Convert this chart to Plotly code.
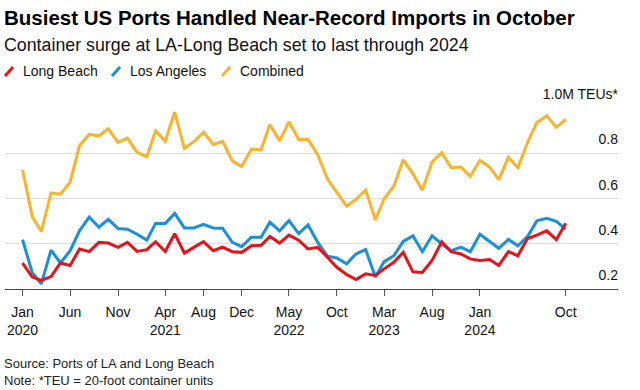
import pandas as pd
import plotly.graph_objects as go

# ---- data (million TEUs, monthly Jan 2020 – Oct 2024) ----
months = pd.date_range("2020-01-01", periods=58, freq="MS")

long_beach = [0.314, 0.253, 0.238, 0.255, 0.315, 0.304, 0.377, 0.365, 0.406, 0.403,
              0.384, 0.406, 0.366, 0.374, 0.409, 0.366, 0.444, 0.359, 0.384, 0.409,
              0.369, 0.385, 0.365, 0.362, 0.391, 0.393, 0.432, 0.403, 0.438, 0.416,
              0.377, 0.384, 0.340, 0.296, 0.264, 0.242, 0.267, 0.260, 0.289, 0.318,
              0.362, 0.276, 0.273, 0.326, 0.409, 0.365, 0.355, 0.333, 0.326, 0.330,
              0.304, 0.365, 0.347, 0.423, 0.438, 0.457, 0.418, 0.491]

los_angeles = [0.418, 0.272, 0.223, 0.372, 0.315, 0.369, 0.457, 0.518, 0.473, 0.508,
               0.467, 0.464, 0.442, 0.416, 0.490, 0.490, 0.534, 0.470, 0.470, 0.486,
               0.470, 0.469, 0.406, 0.387, 0.429, 0.429, 0.496, 0.457, 0.502, 0.445,
               0.483, 0.406, 0.345, 0.337, 0.311, 0.355, 0.374, 0.253, 0.321, 0.347,
               0.410, 0.435, 0.365, 0.435, 0.399, 0.369, 0.385, 0.365, 0.442, 0.409,
               0.380, 0.419, 0.391, 0.432, 0.501, 0.512, 0.499, 0.464]

combined = [0.727, 0.520, 0.454, 0.625, 0.619, 0.672, 0.834, 0.883, 0.877, 0.909,
            0.848, 0.867, 0.804, 0.785, 0.899, 0.854, 0.982, 0.822, 0.851, 0.893,
            0.839, 0.853, 0.766, 0.742, 0.818, 0.815, 0.927, 0.855, 0.939, 0.861,
            0.861, 0.793, 0.686, 0.628, 0.566, 0.596, 0.638, 0.505, 0.599, 0.654,
            0.771, 0.709, 0.637, 0.761, 0.803, 0.736, 0.739, 0.698, 0.768, 0.739,
            0.683, 0.782, 0.736, 0.847, 0.936, 0.966, 0.914, 0.950]

x_tick_dates = ["2020-01-01", "2020-06-01", "2020-11-01", "2021-04-01", "2021-08-01",
                "2021-12-01", "2022-05-01", "2022-10-01", "2023-03-01", "2023-08-01",
                "2024-01-01", "2024-10-01"]
x_tick_text = ["Jan<br>2020", "Jun", "Nov", "Apr<br>2021", "Aug", "Dec",
               "May<br>2022", "Oct", "Mar<br>2023", "Aug", "Jan<br>2024", "Oct"]

y_tick_vals = [0.2, 0.4, 0.6, 0.8, 1.0]
y_tick_text = ["0.2", "0.4", "0.6", "0.8", "1.0M TEUs*"]

series_names = ["Long Beach", "Los Angeles", "Combined"]
series_colors = ["#e8121a", "#1a8fdc", "#fbb32e"]

# ---- layout geometry (pixels) ----
W, H = 640, 390
ML, MR, MT, MB = 5, 22, 108, 101
PW = W - ML - MR
PH = H - MT - MB
FONT = "Liberation Sans, Arial, Helvetica, sans-serif"


def px_x(px):
    return (px - ML) / PW


def px_y(py):
    return (H - MB - py) / PH


fig = go.Figure()
data_by_name = {"Long Beach": long_beach, "Los Angeles": los_angeles, "Combined": combined}
for name in ["Los Angeles", "Long Beach", "Combined"]:
    color = series_colors[series_names.index(name)]
    fig.add_trace(go.Scatter(
        x=months, y=data_by_name[name], name=name, mode="lines",
        line=dict(color=color, width=3), showlegend=False,
        hovertemplate="%{x|%b %Y}: %{y:.3f}M<extra>" + name + "</extra>",
    ))

annotations = [
    dict(text="Container surge at LA-Long Beach set to last through 2024",
         xref="paper", yref="paper", x=px_x(ML), y=px_y(45), xshift=-3,
         xanchor="left", yanchor="middle", showarrow=False,
         font=dict(family=FONT, size=17.8, color="#111111")),
    dict(text="Source: Ports of LA and Long Beach<br>Note: *TEU = 20-foot container units",
         xref="paper", yref="paper", x=px_x(ML), y=px_y(354), xshift=-3,
         xanchor="left", yanchor="top", align="left", showarrow=False,
         font=dict(family=FONT, size=13, color="#222222")),
]
shapes = []
legend_text_x = [23, 130, 240]
for name, color, tx in zip(series_names, series_colors, legend_text_x):
    annotations.append(dict(
        text=name, xref="paper", yref="paper", x=px_x(tx), y=px_y(71.5), xshift=-2,
        xanchor="left", yanchor="middle", showarrow=False,
        font=dict(family=FONT, size=14, color="#111111")))
    shapes.append(dict(
        type="line", xref="paper", yref="paper",
        x0=px_x(tx - 18), y0=px_y(76), x1=px_x(tx - 10), y1=px_y(67),
        line=dict(color=color, width=3)))

fig.update_layout(
    width=W, height=H,
    margin=dict(l=ML, r=MR, t=MT, b=MB),
    paper_bgcolor="white", plot_bgcolor="white",
    title=dict(text="<b>Busiest US Ports Handled Near-Record Imports in October</b>",
               xref="container", yref="container", x=4 / W, y=1 - 18 / H,
               xanchor="left", yanchor="middle",
               font=dict(family=FONT, size=20.5, color="#000000")),
    font=dict(family=FONT, size=14, color="#111111"),
    annotations=annotations,
    shapes=shapes,
    xaxis=dict(
        type="date",
        range=["2019-11-06", "2025-03-17"],
        tickmode="array", tickvals=x_tick_dates, ticktext=x_tick_text,
        showgrid=False, zeroline=False,
        showline=True, linecolor="#444444", linewidth=1,
        ticks="outside", ticklen=6, tickcolor="#555555", tickwidth=1,
        ticklabelstandoff=4,
        tickfont=dict(family=FONT, size=14, color="#111111"),
    ),
    yaxis=dict(
        range=[0.2, 1.0], side="right",
        tickmode="array", tickvals=y_tick_vals, ticktext=y_tick_text,
        ticklabelposition="inside top", ticklabeloverflow="allow",
        ticklabelstandoff=-3, ticklabelshift=-4,
        showgrid=True, gridcolor="#dcdcdc", gridwidth=1,
        zeroline=False, showline=False, ticks="",
        tickfont=dict(family=FONT, size=14, color="#111111"),
    ),
    hovermode="closest",
)

fig.write_html("out.html", config={"displayModeBar": False},
               post_script="document.body.style.margin='0';")
